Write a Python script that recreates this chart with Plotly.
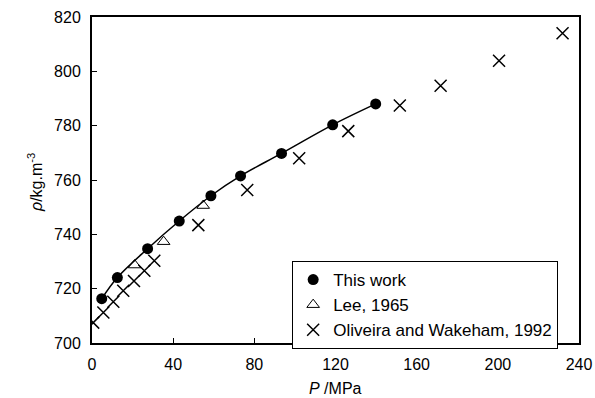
import plotly.graph_objects as go

# Density of the liquid vs pressure
this_work_p = [4.8, 12.5, 27.4, 43.0, 58.6, 73.2, 93.4, 118.6, 139.8]
this_work_rho = [716.3, 724.1, 734.7, 744.9, 754.2, 761.5, 769.8, 780.3, 788.0]

lee_p = [21.0, 35.3, 54.8]
lee_rho = [728.7, 737.3, 750.6]

ow_p = [0.6, 5.6, 10.5, 15.4, 20.7, 25.8, 30.7, 52.4, 76.5, 102.1, 126.3, 151.7, 171.8, 200.6, 231.9]
ow_rho = [707.5, 711.2, 715.2, 719.2, 722.8, 726.6, 730.3, 743.4, 756.3, 768.0, 778.0, 787.4, 794.7, 803.9, 814.0]

x_ticks = [0, 40, 80, 120, 160, 200, 240]
y_ticks = [700, 720, 740, 760, 780, 800, 820]

FONT = "Liberation Sans, Arial, sans-serif"

fig = go.Figure()

# smooth correlation through this work's points
fig.add_trace(go.Scatter(
    x=this_work_p, y=this_work_rho, mode="lines", line=dict(color="black", width=1.5, shape="spline"),
    showlegend=False, hoverinfo="skip"))

fig.add_trace(go.Scatter(
    x=ow_p, y=ow_rho, mode="markers", name="Oliveira and Wakeham, 1992",
    marker=dict(symbol="x-thin-open", size=12, color="black", line=dict(color="black", width=1.5))))

fig.add_trace(go.Scatter(
    x=lee_p, y=lee_rho, mode="markers", name="Lee, 1965",
    marker=dict(symbol="triangle-up-open", size=11, color="black", line=dict(color="black", width=1))))

fig.add_trace(go.Scatter(
    x=this_work_p, y=this_work_rho, mode="markers", name="This work",
    marker=dict(symbol="circle", size=11, color="black")))

axis_common = dict(
    showline=True, linecolor="black", linewidth=2, mirror=True,
    ticks="inside", ticklen=5, tickwidth=1, tickcolor="black",
    showgrid=False, zeroline=False, automargin=False,
    tickfont=dict(family=FONT, size=16, color="black"),
)

fig.update_xaxes(range=[0, 240], tickvals=x_ticks, ticktext=[str(v) for v in x_ticks],
                 ticklabelstandoff=6, **axis_common)
fig.update_yaxes(range=[700, 820], tickvals=y_ticks, ticktext=[str(v) for v in y_ticks],
                 ticklabelstandoff=6, **axis_common)

# axis titles
title_font = dict(family=FONT, size=16, color="black")
fig.add_annotation(text="<i>P</i> /MPa", xref="paper", yref="paper", x=0.5, y=0,
                   xanchor="center", yanchor="middle", yshift=-45, showarrow=False, font=title_font)
fig.add_annotation(text="<i>ρ</i>/kg.m<sup>-3</sup>", xref="paper", yref="paper", x=0, y=0.5,
                   xanchor="center", yanchor="middle", xshift=-57, yshift=-3, textangle=-90,
                   showarrow=False, font=title_font)

fig.update_layout(
    width=595, height=398,
    margin=dict(l=92, r=16, t=17, b=55),
    paper_bgcolor="white", plot_bgcolor="white",
    font=dict(family=FONT, color="black"),
    legend=dict(
        x=0.411, y=0.2515, xanchor="left", yanchor="top",
        bgcolor="white", bordercolor="black", borderwidth=1,
        font=dict(family=FONT, size=17, color="black"),
        traceorder="reversed", tracegroupgap=0, itemwidth=30,
    ),
)

fig.write_html("out.html")
